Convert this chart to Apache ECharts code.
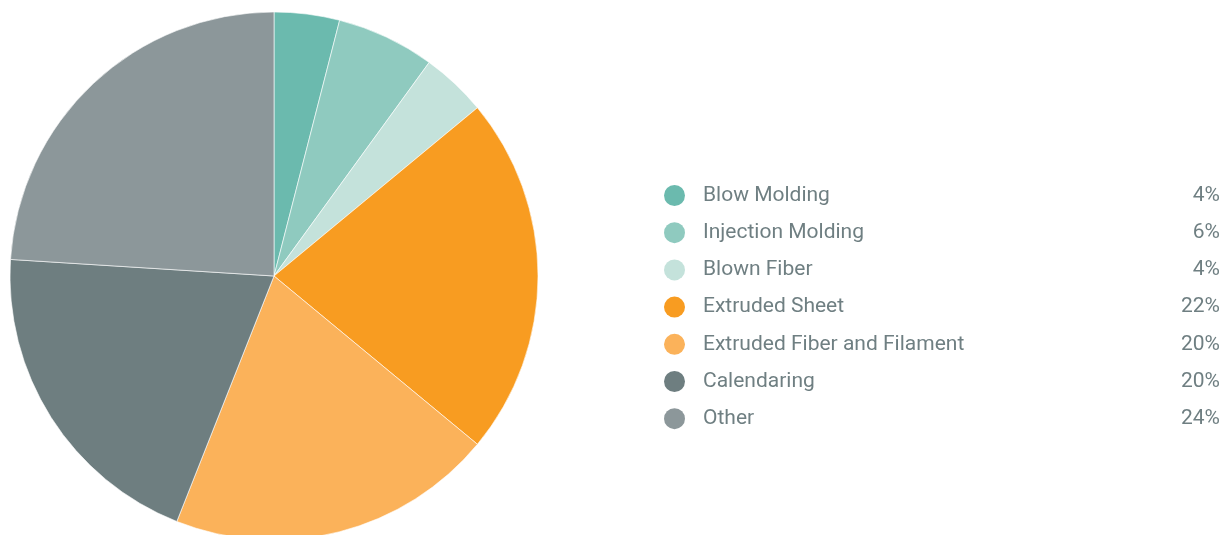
<!DOCTYPE html>
<html>
<head>
<meta charset="utf-8">
<script src="https://cdn.jsdelivr.net/npm/echarts@6/dist/echarts.min.js"></script>
<style>
  html, body { margin: 0; padding: 0; background: #ffffff; }
  #chart { width: 1230px; height: 535px; }
</style>
</head>
<body>
<div id="chart"></div>
<script>
// Share of each processing method (percent)
const categories = [
  'Blow Molding',
  'Injection Molding',
  'Blown Fiber',
  'Extruded Sheet',
  'Extruded Fiber and Filament',
  'Calendaring',
  'Other'
];
const shares = [4, 6, 4, 22, 20, 20, 24];
const colors = ['#6bbaae', '#8fcabf', '#c4e2db', '#f89c21', '#fbb25a', '#6e7e80', '#8c979a'];

const textColor = '#6f7f82';
const shareByName = {};
categories.forEach((c, i) => { shareByName[c] = shares[i]; });

const chart = echarts.init(document.getElementById('chart'), null, { renderer: 'canvas' });
chart.setOption({
  animation: false,
  color: colors,
  legend: {
    orient: 'vertical',
    left: 664,
    top: 185,
    padding: 0,
    icon: 'circle',
    itemWidth: 21,
    itemHeight: 21,
    itemGap: 16.2,
    selectedMode: false,
    itemStyle: { borderWidth: 0 },
    data: categories,
    formatter: name => '{n|' + name + '}{v|' + shareByName[name] + '%}',
    textStyle: {
      color: textColor,
      fontFamily: 'Roboto',
      fontSize: 21,
      lineHeight: 21,
      rich: {
        n: { width: 477, padding: [0, 0, 0, 13], color: textColor, fontFamily: 'Roboto', fontSize: 21, lineHeight: 21 },
        v: { width: 40, align: 'right', color: textColor, fontFamily: 'Roboto', fontSize: 21, lineHeight: 21 }
      }
    }
  },
  series: [{
    type: 'pie',
    center: [274, 276],
    radius: 264,
    startAngle: 90,
    clockwise: true,
    label: { show: false },
    labelLine: { show: false },
    emphasis: { disabled: true },
    itemStyle: { borderColor: '#ffffff', borderWidth: 0.6 },
    data: categories.map((c, i) => ({ name: c, value: shares[i] }))
  }]
});
</script>
</body>
</html>
